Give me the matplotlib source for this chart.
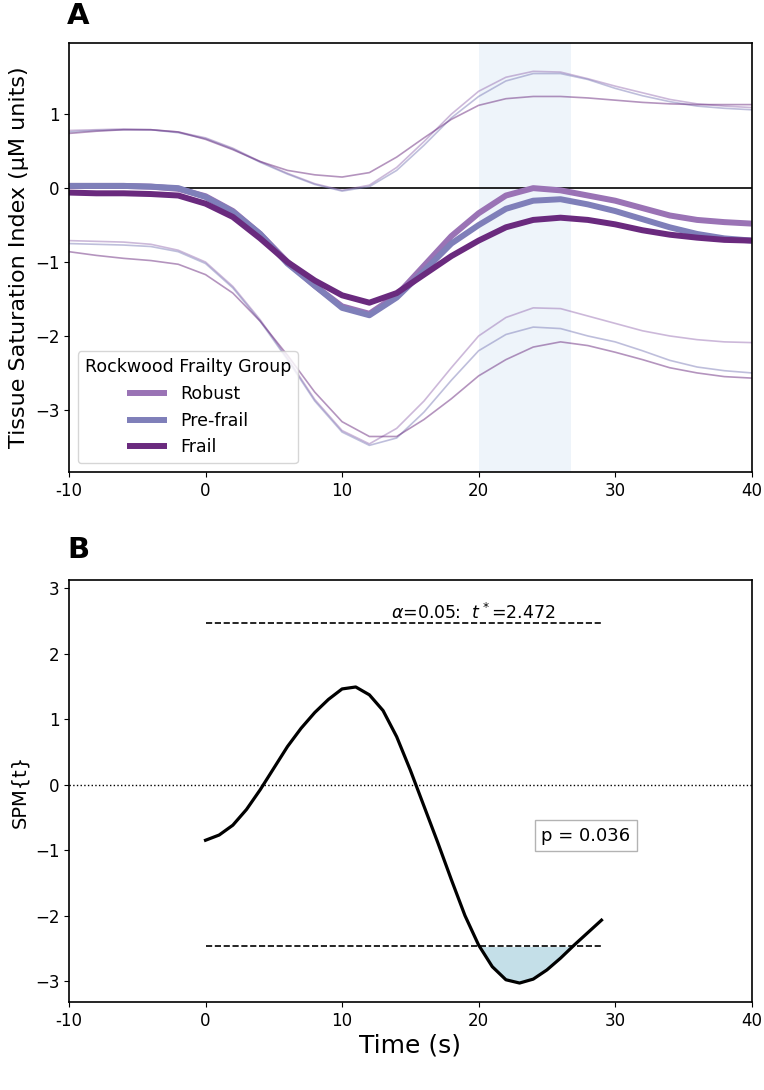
import numpy as np
import matplotlib
matplotlib.use("Agg")
import matplotlib.pyplot as plt

time_a = [-10, -8, -6, -4, -2, 0, 2, 4, 6, 8, 10, 12, 14, 16, 18, 20,
          22, 24, 26, 28, 30, 32, 34, 36, 38, 40]

groups = ["Robust", "Pre-frail", "Frail"]
colors = ["#9a73b5", "#7f7fb9", "#6a2a7e"]

robust_mean = [0.03, 0.03, 0.03, 0.02, -0.01, -0.11, -0.31, -0.62, -1.0, -1.32,
               -1.6, -1.70, -1.45, -1.05, -0.65, -0.34, -0.1, 0.0, -0.03, -0.1,
               -0.17, -0.27, -0.37, -0.43, -0.46, -0.48]
prefrail_mean = [0.03, 0.03, 0.03, 0.02, 0.0, -0.12, -0.32, -0.62, -1.02, -1.32,
                 -1.62, -1.72, -1.48, -1.12, -0.75, -0.5, -0.28, -0.17, -0.15, -0.22,
                 -0.31, -0.42, -0.53, -0.62, -0.68, -0.71]
frail_mean = [-0.06, -0.07, -0.07, -0.08, -0.1, -0.21, -0.39, -0.68, -1.0, -1.25,
              -1.45, -1.55, -1.42, -1.17, -0.92, -0.71, -0.53, -0.43, -0.4, -0.43,
              -0.49, -0.57, -0.63, -0.67, -0.70, -0.71]

robust_upper = [0.78, 0.79, 0.80, 0.79, 0.76, 0.68, 0.54, 0.36, 0.20, 0.06,
                -0.03, 0.04, 0.28, 0.63, 1.0, 1.31, 1.50, 1.58, 1.57, 1.48,
                1.38, 1.29, 1.20, 1.14, 1.11, 1.09]
prefrail_upper = [0.76, 0.78, 0.79, 0.79, 0.75, 0.67, 0.53, 0.35, 0.19, 0.05,
                  -0.04, 0.02, 0.24, 0.58, 0.95, 1.24, 1.45, 1.55, 1.55, 1.47,
                  1.35, 1.25, 1.17, 1.11, 1.08, 1.06]
frail_upper = [0.74, 0.77, 0.79, 0.79, 0.76, 0.66, 0.52, 0.36, 0.24, 0.18,
               0.15, 0.21, 0.42, 0.68, 0.93, 1.12, 1.21, 1.24, 1.24, 1.22,
               1.19, 1.16, 1.14, 1.13, 1.13, 1.13]

robust_lower = [-0.71, -0.72, -0.73, -0.76, -0.84, -1.0, -1.33, -1.78, -2.3, -2.86,
                -3.28, -3.46, -3.25, -2.88, -2.43, -2.0, -1.75, -1.62, -1.63, -1.73,
                -1.83, -1.93, -2.0, -2.05, -2.08, -2.09]
prefrail_lower = [-0.75, -0.76, -0.77, -0.79, -0.86, -1.02, -1.35, -1.8, -2.32, -2.88,
                  -3.3, -3.48, -3.38, -3.03, -2.6, -2.2, -1.98, -1.88, -1.9, -2.0,
                  -2.08, -2.2, -2.33, -2.42, -2.47, -2.5]
frail_lower = [-0.86, -0.91, -0.95, -0.98, -1.03, -1.17, -1.42, -1.8, -2.26, -2.76,
               -3.16, -3.36, -3.36, -3.13, -2.85, -2.54, -2.32, -2.15, -2.08, -2.13,
               -2.22, -2.32, -2.43, -2.5, -2.55, -2.57]

cluster = (20.0, 26.8)

# ---- panel B data: SPM{t} ----
time_b = list(range(0, 30))
spm_t = [-0.85, -0.77, -0.62, -0.38, -0.08, 0.25, 0.58, 0.86, 1.1, 1.3,
         1.46, 1.49, 1.37, 1.13, 0.73, 0.22, -0.33, -0.88, -1.45, -2.0,
         -2.45, -2.78, -2.98, -3.03, -2.97, -2.83, -2.65, -2.45, -2.26, -2.07]
t_crit = 2.472
alpha = 0.05
p_value = 0.036

xticks = [-10, 0, 10, 20, 30, 40]
xticklabels = ["-10", "0", "10", "20", "30", "40"]

means = [robust_mean, prefrail_mean, frail_mean]
uppers = [robust_upper, prefrail_upper, frail_upper]
lowers = [robust_lower, prefrail_lower, frail_lower]

fig = plt.figure(figsize=(7.64, 10.9), dpi=100)
ax1 = fig.add_axes([0.0903, 0.567, 0.8936, 0.394])
ax2 = fig.add_axes([0.0903, 0.0807, 0.8936, 0.387])

# panel A
ax1.axvspan(cluster[0], cluster[1], color="#eef4fa", zorder=0, lw=0)
ax1.axhline(0, color="black", lw=1.2, zorder=1)
for up, lo, c in zip(uppers, lowers, colors):
    ax1.plot(time_a, up, color=c, lw=1.2, alpha=0.5, solid_joinstyle="round")
    ax1.plot(time_a, lo, color=c, lw=1.2, alpha=0.5, solid_joinstyle="round")
for m, c, g in zip(means, colors, groups):
    ax1.plot(time_a, m, color=c, lw=4.3, label=g, solid_capstyle="butt",
             solid_joinstyle="round")

ax1.set_xlim(-10, 40)
ax1.set_ylim(-3.84, 1.97)
ax1.set_yticks([-3, -2, -1, 0, 1])
ax1.set_xticks(xticks)
ax1.set_xticklabels(xticklabels)
ax1.set_ylabel("Tissue Saturation Index (\u00b5M units)", fontsize=16)
ax1.tick_params(labelsize=12)
leg = ax1.legend(title="Rockwood Frailty Group", loc="lower left", fontsize=12.5,
                 title_fontsize=12.5, handlelength=2.3)

# panel B
tb = np.array(time_b)
yb = np.array(spm_t)
ax2.axhline(0, color="black", lw=1, ls=":")
ax2.plot([tb[0], tb[-1]], [t_crit, t_crit], color="black", ls="--", lw=1.2)
ax2.plot([tb[0], tb[-1]], [-t_crit, -t_crit], color="black", ls="--", lw=1.2)
ax2.fill_between(tb, yb, -t_crit, where=yb < -t_crit, interpolate=True,
                 color="#c4dfe8", lw=0)
ax2.plot(tb, yb, color="black", lw=2.3)
ax2.text(19.6, t_crit + 0.06, r"$\alpha$=%.2f:  $t^*$=%.3f" % (alpha, t_crit),
         ha="center", va="baseline", fontsize=12.5)
ax2.text(27.85, -0.78, "p = %.3f" % p_value, ha="center", va="center", fontsize=13,
         bbox=dict(boxstyle="square,pad=0.35", fc="white", ec="0.7"))

ax2.set_xlim(-10, 40)
ax2.set_ylim(-3.32, 3.12)
ax2.set_yticks([-3, -2, -1, 0, 1, 2, 3])
ax2.set_xticks(xticks)
ax2.set_xticklabels(xticklabels)
ax2.set_ylabel("SPM{t}", fontsize=14)
ax2.set_xlabel("Time (s)", fontsize=18, labelpad=3)
ax2.tick_params(labelsize=12)

for ax in (ax1, ax2):
    for s in ax.spines.values():
        s.set_linewidth(1.2)

fig.text(0.088, 0.985, "A", fontsize=21, fontweight="bold", ha="left", va="center")
fig.text(0.088, 0.495, "B", fontsize=21, fontweight="bold", ha="left", va="center")

fig.savefig("out.png", dpi=100)
